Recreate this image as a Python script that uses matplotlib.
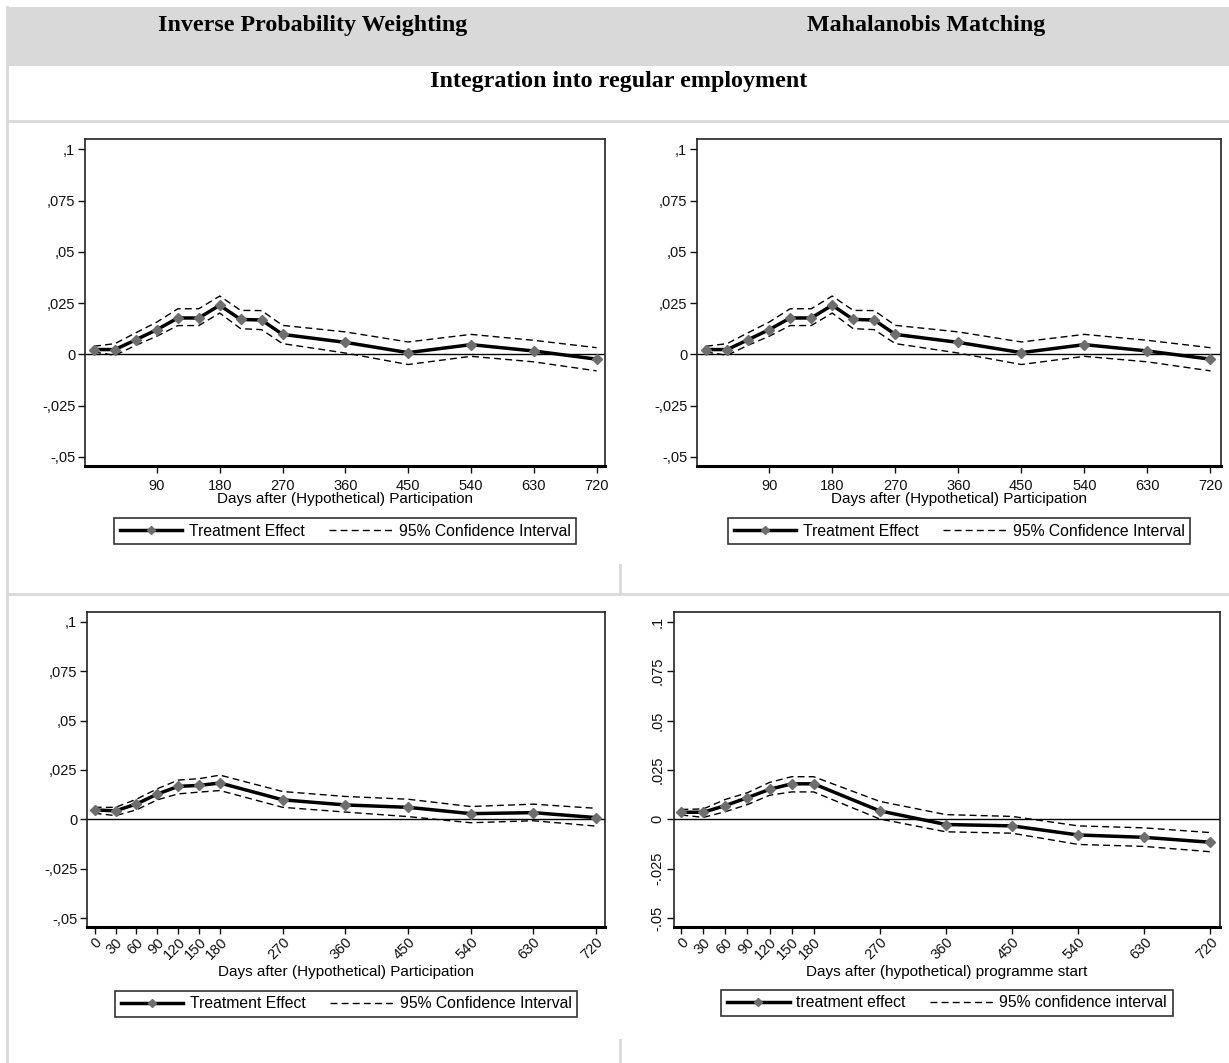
import matplotlib
matplotlib.use('Agg')
import matplotlib.pyplot as plt
from matplotlib.patches import Rectangle
from matplotlib.lines import Line2D

# Datos: días tras la participación
dias_arriba = [0, 30, 60, 90, 120, 150, 180, 210, 240, 270, 360, 450, 540, 630, 720]
dias_abajo = [0, 30, 60, 90, 120, 150, 180, 270, 360, 450, 540, 630, 720]

# Panel superior izquierdo (IPW)
ipw1_efecto = [0.0023, 0.0023, 0.0071, 0.0120, 0.0177, 0.0177, 0.0239, 0.0170, 0.0167,
               0.0097, 0.0058, 0.0008, 0.0047, 0.0016, -0.0024]
ipw1_sup = [0.0039, 0.0052, 0.0105, 0.0157, 0.0222, 0.0222, 0.0284, 0.0214, 0.0213,
            0.0141, 0.0109, 0.0060, 0.0097, 0.0068, 0.0032]
ipw1_inf = [0.0011, -0.0005, 0.0044, 0.0088, 0.0140, 0.0140, 0.0201, 0.0125, 0.0120,
            0.0052, 0.0006, -0.0050, -0.0010, -0.0037, -0.0081]

# Panel superior derecho (Mahalanobis)
mah1_efecto = [0.0023, 0.0023, 0.0071, 0.0120, 0.0177, 0.0177, 0.0239, 0.0170, 0.0167,
               0.0097, 0.0058, 0.0008, 0.0047, 0.0016, -0.0024]
mah1_sup = [0.0039, 0.0052, 0.0105, 0.0157, 0.0222, 0.0222, 0.0284, 0.0214, 0.0213,
            0.0141, 0.0109, 0.0060, 0.0097, 0.0068, 0.0032]
mah1_inf = [0.0011, -0.0005, 0.0044, 0.0088, 0.0140, 0.0140, 0.0201, 0.0125, 0.0120,
            0.0052, 0.0006, -0.0050, -0.0010, -0.0037, -0.0081]

# Panel inferior izquierdo (IPW)
ipw2_efecto = [0.0048, 0.0043, 0.0078, 0.0128, 0.0167, 0.0172, 0.0184, 0.0099, 0.0073,
               0.0061, 0.0029, 0.0034, 0.0009]
ipw2_sup = [0.0061, 0.0061, 0.0102, 0.0155, 0.0199, 0.0206, 0.0224, 0.0141, 0.0116,
            0.0102, 0.0065, 0.0077, 0.0056]
ipw2_inf = [0.0031, 0.0019, 0.0048, 0.0099, 0.0129, 0.0138, 0.0146, 0.0061, 0.0037,
            0.0014, -0.0017, -0.0007, -0.0034]

# Panel inferior derecho (Mahalanobis)
mah2_efecto = [0.0036, 0.0036, 0.0070, 0.0110, 0.0152, 0.0180, 0.0180, 0.0043, -0.0026,
               -0.0033, -0.0079, -0.0091, -0.0116]
mah2_sup = [0.0050, 0.0053, 0.0101, 0.0135, 0.0187, 0.0216, 0.0216, 0.0091, 0.0024,
            0.0015, -0.0033, -0.0043, -0.0067]
mah2_inf = [0.0022, 0.0010, 0.0039, 0.0075, 0.0122, 0.0139, 0.0139, 0.0002, -0.0063,
            -0.0070, -0.0127, -0.0137, -0.0164]

yticks = [-0.05, -0.025, 0, 0.025, 0.05, 0.075, 0.1]
ylab_coma = ['-,05', '-,025', '0', ',025', ',05', ',075', ',1']
ylab_punto = ['-.05', '-.025', '0', '.025', '.05', '.075', '.1']
xticks_arriba = [90, 180, 270, 360, 450, 540, 630, 720]

W, H = 1229, 1063
plt.rcParams['font.family'] = ['Liberation Sans', 'DejaVu Sans']
fig = plt.figure(figsize=(W / 100, H / 100), dpi=100)


def caja(x0, y0, x1, y1):
    # convierte píxeles (origen arriba) a coordenadas de figura
    return [x0 / W, 1 - y1 / H, (x1 - x0) / W, (y1 - y0) / H]


def linea_fig(xs, ys, color='#d9d9d9', lw=2):
    fig.add_artist(Line2D([x / W for x in xs], [1 - y / H for y in ys],
                          color=color, lw=lw, transform=fig.transFigure))


# Cabecera de tabla
fig.add_artist(Rectangle((7 / W, 1 - 66 / H), (W - 7) / W, 59 / H,
                         transform=fig.transFigure, color='#d9d9d9', lw=0))
linea_fig([7, 7], [7, H])
linea_fig([7, W], [121, 121])
linea_fig([7, W], [594, 594])
linea_fig([620, 620], [565, 594])
linea_fig([620, 620], [1040, H])
serif = dict(family='Liberation Serif', fontweight='bold', fontsize=17.3,
             ha='center', va='center')
fig.text(313 / W, 1 - 25 / H, 'Inverse Probability Weighting', **serif)
fig.text(926 / W, 1 - 25 / H, 'Mahalanobis Matching', **serif)
fig.text(619 / W, 1 - 81 / H, 'Integration into regular employment', **serif)

paneles = [
    (caja(85, 139, 605, 466), dias_arriba, ipw1_efecto, ipw1_sup, ipw1_inf, (-13, 732),
     'arriba', ylab_coma, 'Days after (Hypothetical) Participation',
     ['Treatment Effect', '95% Confidence Interval'], -0.199),
    (caja(697, 139, 1221, 466), dias_arriba, mah1_efecto, mah1_sup, mah1_inf, (-13, 735),
     'arriba', ylab_coma, 'Days after (Hypothetical) Participation',
     ['Treatment Effect', '95% Confidence Interval'], -0.199),
    (caja(87, 612, 605, 927), dias_abajo, ipw2_efecto, ipw2_sup, ipw2_inf, (-11, 733),
     'abajo', ylab_coma, 'Days after (Hypothetical) Participation',
     ['Treatment Effect', '95% Confidence Interval'], -0.243),
    (caja(674, 612, 1220, 927), dias_abajo, mah2_efecto, mah2_sup, mah2_inf, (-10, 733),
     'abajo', ylab_punto, 'Days after (hypothetical) programme start',
     ['treatment effect', '95% confidence interval'], -0.240),
]

for i, (pos, dias, efecto, sup, inf, xlim, tipo, ylabs, xlabel, leyenda, ley_y) in enumerate(paneles):
    ax = fig.add_axes(pos)
    ax.axhline(0, color='black', lw=1)
    ax.plot(dias, sup, color='black', lw=1, linestyle=(0, (5, 3)))
    ax.plot(dias, inf, color='black', lw=1, linestyle=(0, (5, 3)))
    ax.plot(dias, efecto, color='black', lw=2.5, marker='D', markersize=5,
            markerfacecolor='#6e6e6e', markeredgecolor='#6e6e6e')
    ax.set_xlim(*xlim)
    ax.set_ylim(-0.0545, 0.105)
    ax.set_yticks(yticks)
    ax.set_yticklabels(ylabs)
    for lado in ['top', 'right', 'left']:
        ax.spines[lado].set_linewidth(1.2)
        ax.spines[lado].set_color('#222222')
    ax.spines['bottom'].set_linewidth(2.2)
    ax.tick_params(axis='both', direction='out', length=5, width=1, labelsize=10.5,
                   colors='#111111')
    if tipo == 'arriba':
        ax.set_xticks(xticks_arriba)
        ax.set_xticklabels([str(d) for d in xticks_arriba])
        ax.tick_params(axis='x', pad=4)
        ax.set_xlabel(xlabel, fontsize=11, labelpad=0)
    else:
        ax.set_xticks(dias)
        ax.set_xticklabels([str(d) for d in dias], rotation=45, ha='right',
                           rotation_mode='anchor')
        ax.tick_params(axis='x', pad=1)
        ax.set_xlabel(xlabel, fontsize=11, labelpad=2)
    if i == 3:
        for t in ax.get_yticklabels():
            t.set_rotation(90)
            t.set_va('center')
    ax.tick_params(axis='y', pad=2)

    handles = [Line2D([], [], color='black', lw=2.5, marker='D', markersize=4,
                      markerfacecolor='#6e6e6e', markeredgecolor='#6e6e6e'),
               Line2D([], [], color='black', lw=1, linestyle=(0, (5, 3)))]
    leg = ax.legend(handles, leyenda, loc='center', bbox_to_anchor=(0.5, ley_y), ncol=2,
                    frameon=True, fancybox=False, edgecolor='black', fontsize=11.3,
                    handlelength=4.0, columnspacing=1.6, handletextpad=0.4,
                    borderpad=0.35, borderaxespad=0, handleheight=0.7)
    leg.get_frame().set_linewidth(1.2)

fig.savefig('out.png', dpi=100)
plt.close(fig)
